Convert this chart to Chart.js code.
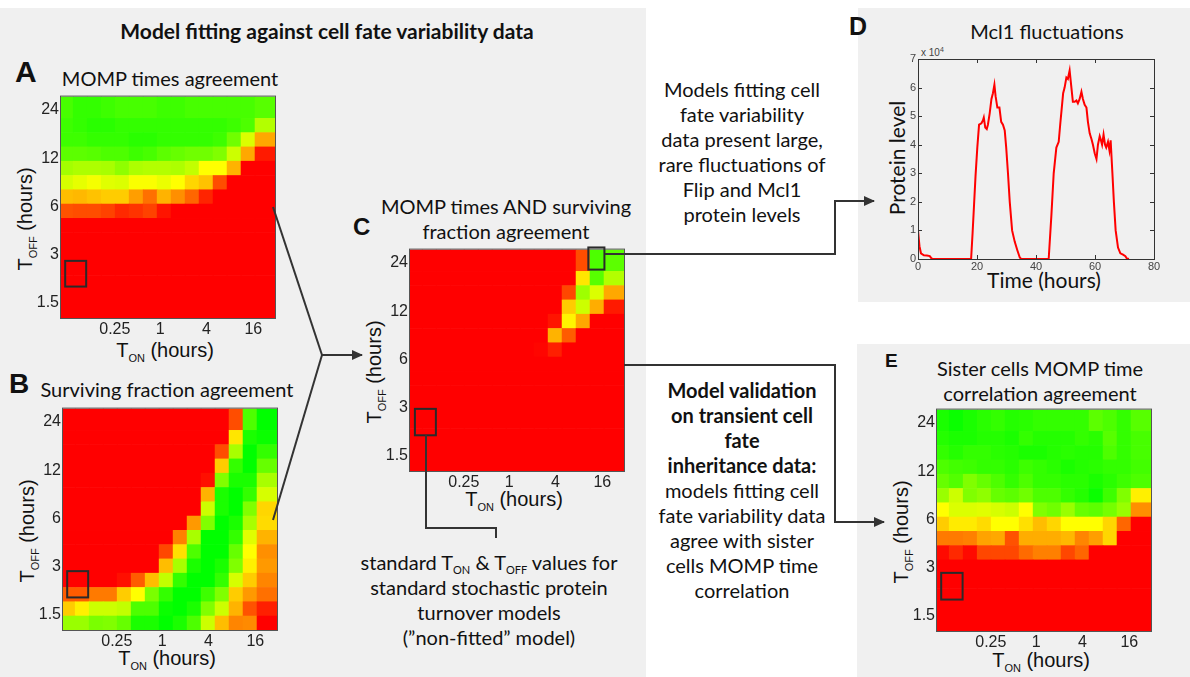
<!DOCTYPE html>
<html>
<head>
<meta charset="utf-8">
<script src="https://cdn.jsdelivr.net/npm/chart.js@4.4.0/dist/chart.umd.min.js"></script>
<style>
body { margin: 0; width: 1190px; height: 677px; position: relative; overflow: hidden; background: #fff; font-family: Lato, sans-serif; color: #111; }
.bg { position: absolute; background: #f0f0f0; }
.t { position: absolute; text-align: center; white-space: nowrap; line-height: 25px; font-size: 20px; }
.t sub { font-size: 11px; vertical-align: -4px; line-height: 0; }
.lt { position: absolute; font-family: 'Liberation Sans', Arial, sans-serif; font-weight: bold; line-height: 1; }
.ax { position: absolute; font-family: 'Liberation Sans', Arial, sans-serif; font-size: 20px; white-space: nowrap; text-align: center; line-height: 24px; color: #111; }
.ax sub { font-size: 11px; vertical-align: -5px; line-height: 0; }
.rot { transform: translate(-50%, -50%) rotate(-90deg); }
canvas { position: absolute; }
svg { position: absolute; left: 0; top: 0; }
</style>
</head>
<body>
<div class="bg" style="left:0;top:8px;width:646px;height:669px"></div>
<div class="bg" style="left:858px;top:8px;width:332px;height:294px"></div>
<div class="bg" style="left:857px;top:344px;width:333px;height:333px"></div>

<!-- panel letters -->
<div class="lt" style="left:15px;top:57px;font-size:30px">A</div>
<div class="lt" style="left:9px;top:370px;font-size:28px">B</div>
<div class="lt" style="left:353px;top:215px;font-size:24px">C</div>
<div class="lt" style="left:849px;top:14px;font-size:25px">D</div>
<div class="lt" style="left:885px;top:351px;font-size:19px">E</div>

<!-- titles -->
<div class="t" style="left:77px;top:18px;width:500px;font-weight:bold;font-size:21px">Model fitting against cell fate variability data</div>
<div class="t" style="left:40px;top:66px;width:260px">MOMP times agreement</div>
<div class="t" style="left:27px;top:377px;width:280px">Surviving fraction agreement</div>
<div class="t" style="left:376px;top:194px;width:260px">MOMP times AND surviving<br>fraction agreement</div>
<div class="t" style="left:920px;top:356px;width:240px">Sister cells MOMP time<br>correlation agreement</div>
<div class="t" style="left:947px;top:19px;width:200px">Mcl1 fluctuations</div>

<!-- side notes -->
<div class="t" style="left:632px;top:77px;width:220px">Models fitting cell<br>fate variability<br>data present large,<br>rare fluctuations of<br>Flip and Mcl1<br>protein levels</div>
<div class="t" style="left:632px;top:378px;width:220px"><b>Model validation<br>on transient cell<br>fate<br>inheritance data:</b><br>models fitting cell<br>fate variability data<br>agree with sister<br>cells MOMP time<br>correlation</div>
<div class="t" style="left:349px;top:550px;width:280px">standard T<sub>ON</sub> &amp; T<sub>OFF</sub> values for<br>standard stochastic protein<br>turnover models<br>(”non-fitted” model)</div>

<!-- heatmap axis titles -->
<div class="ax" style="left:65px;top:338px;width:200px">T<sub>ON</sub> (hours)</div>
<div class="ax" style="left:67px;top:646px;width:200px">T<sub>ON</sub> (hours)</div>
<div class="ax" style="left:414px;top:487px;width:200px">T<sub>ON</sub> (hours)</div>
<div class="ax" style="left:941px;top:648px;width:200px">T<sub>ON</sub> (hours)</div>
<div class="ax rot" style="left:25px;top:219px">T<sub>OFF</sub> (hours)</div>
<div class="ax rot" style="left:27px;top:531px">T<sub>OFF</sub> (hours)</div>
<div class="ax rot" style="left:374px;top:372px">T<sub>OFF</sub> (hours)</div>
<div class="ax rot" style="left:901px;top:532px">T<sub>OFF</sub> (hours)</div>

<!-- line chart labels -->
<div class="t rot" style="left:896px;top:158px;font-size:21px">Protein level</div>
<div class="t" style="left:944px;top:267px;width:200px;font-size:21px">Time (hours)</div>
<div style="position:absolute;left:921px;top:46px;font-family:'Liberation Sans',Arial,sans-serif;font-size:10px;color:#444">x 10<sup style="font-size:7px">4</sup></div>

<canvas id="hA"></canvas>
<canvas id="hB"></canvas>
<canvas id="hC"></canvas>
<canvas id="hE"></canvas>
<canvas id="lineD"></canvas>

<svg width="1190" height="677">
  <defs>
    <marker id="ah" markerWidth="11" markerHeight="10" refX="10" refY="5" orient="auto" markerUnits="userSpaceOnUse">
      <path d="M0,0 L11,5 L0,10 z" fill="#333"/>
    </marker>
  </defs>
  <g fill="none" stroke="#333" stroke-width="2">
    <polyline points="273,207 322,355"/>
    <polyline points="273,520 322,355"/>
    <polyline points="322,355 362,355" marker-end="url(#ah)"/>
    <polyline points="605,254 835,254 835,201 874,201" marker-end="url(#ah)"/>
    <polyline points="624,365 835,365 835,522 884,522" marker-end="url(#ah)"/>
    <polyline points="426,435 426,528 496,528 496,538"/>
  </g>
</svg>

<script>
Chart.defaults.font.family = "'Liberation Sans', Arial, sans-serif";
Chart.defaults.color = '#222';
Chart.defaults.animation = false;

// heatmap axes (cell units) and tick labels
const X_TICK_POS = [4.0, 7.25, 10.55, 13.9];
const X_TICK_LABELS = ['0.25', '1', '4', '16'];
const Y_TICK_POS = [1.1, 4.47, 7.8, 11.18, 14.6];
const Y_TICK_LABELS = ['1.5', '3', '6', '12', '24'];
const COL_EDGES = [0.15, 1, 2, 3, 4, 5, 6, 7, 8, 9, 10, 11, 12, 13, 14, 15.45];
const ROW_EDGES = [0, 1, 2, 3, 4, 5, 6, 7, 8, 9, 10, 11, 12, 13, 14, 15.5];

// agreement scores 0 (red) .. 5 (yellow) .. 10 (green), rows top -> bottom
const gridA = [
    [8.6, 9.0, 9.0, 8.8, 8.6, 8.6, 8.6, 8.8, 8.8, 8.6, 8.6, 8.6, 8.6, 8.6, 8.3],
    [8.8, 9.0, 9.2, 9.2, 9.0, 9.0, 9.0, 9.0, 9.0, 9.0, 9.0, 9.0, 8.8, 8.5, 6.5],
    [8.8, 8.8, 9.0, 9.0, 9.0, 9.2, 9.2, 9.0, 9.0, 9.0, 9.0, 8.8, 7.8, 5.7, 3.3],
    [8.2, 8.2, 8.3, 8.5, 8.5, 8.8, 8.6, 8.2, 8.0, 7.8, 7.8, 7.5, 6.0, 3.3, 0.5],
    [6.8, 6.6, 6.6, 6.7, 7.2, 6.6, 6.5, 6.5, 6.6, 6.2, 5.0, 5.0, 3.5, 0, 0],
    [5.8, 5.5, 5.2, 5.6, 5.7, 5.1, 5.1, 5.4, 5.0, 4.2, 3.8, 1.5, 0, 0, 0],
    [3.7, 3.6, 3.8, 4.0, 4.0, 3.1, 2.2, 3.5, 2.8, 2.0, 0.7, 0, 0, 0, 0],
    [1.6, 1.5, 1.5, 1.3, 0.8, 1.0, 1.3, 0.4, 0, 0, 0, 0, 0, 0, 0],
    [0, 0, 0, 0, 0, 0, 0, 0, 0, 0, 0, 0, 0, 0, 0],
    [0, 0, 0, 0, 0, 0, 0, 0, 0, 0, 0, 0, 0, 0, 0],
    [0, 0, 0, 0, 0, 0, 0, 0, 0, 0, 0, 0, 0, 0, 0],
    [0, 0, 0, 0, 0, 0, 0, 0, 0, 0, 0, 0, 0, 0, 0],
    [0, 0, 0, 0, 0, 0, 0, 0, 0, 0, 0, 0, 0, 0, 0],
    [0, 0, 0, 0, 0, 0, 0, 0, 0, 0, 0, 0, 0, 0, 0],
    [0, 0, 0, 0, 0, 0, 0, 0, 0, 0, 0, 0, 0, 0, 0],
];

const gridB = [
    [0, 0, 0, 0, 0, 0, 0, 0, 0, 0, 0, 0, 1.5, 8.5, 10],
    [0, 0, 0, 0, 0, 0, 0, 0, 0, 0, 0, 0, 4.5, 9.5, 9.8],
    [0, 0, 0, 0, 0, 0, 0, 0, 0, 0, 0, 1.5, 6.7, 10, 9.0],
    [0, 0, 0, 0, 0, 0, 0, 0, 0, 0, 0, 4.0, 9.0, 10, 8.0],
    [0, 0, 0, 0, 0, 0, 0, 0, 0, 0, 0.3, 7.5, 9.5, 9.5, 6.7],
    [0, 0, 0, 0, 0, 0, 0, 0, 0, 0, 3.5, 9.5, 10, 9.0, 5.8],
    [0, 0, 0, 0, 0, 0, 0, 0, 0, 0, 6.0, 9.5, 10, 7.5, 4.2],
    [0, 0, 0, 0, 0, 0, 0, 0, 0, 3.0, 7.5, 10, 9.5, 6.7, 4.3],
    [0, 0, 0, 0, 0, 0, 0, 0, 2.5, 6.7, 10, 10, 9.0, 5.6, 3.5],
    [0, 0, 0, 0, 0, 0, 0, 1.4, 4.4, 8.5, 10, 10, 8.0, 5.0, 2.8],
    [0, 0, 0, 0, 0, 0, 0, 3.7, 6.7, 9.5, 10, 9.5, 7.5, 4.7, 3.0],
    [0, 0, 0, 0, 0.3, 1.8, 3.7, 6.2, 9.0, 10, 10, 9.0, 5.8, 4.0, 2.6],
    [1.8, 1.8, 2.4, 2.4, 4.0, 5.0, 7.6, 9.0, 10, 10, 8.8, 7.5, 4.0, 3.0, 2.2],
    [4.0, 4.7, 6.0, 6.0, 6.2, 8.5, 8.5, 9.8, 10, 9.5, 7.5, 6.0, 3.5, 1.6, 0.6],
    [7.0, 7.0, 7.6, 7.5, 8.0, 9.5, 9.5, 10, 9.5, 8.5, 6.0, 3.7, 2.6, 2.7, 0],
];

const gridC = [
    [0, 0, 0, 0, 0, 0, 0, 0, 0, 0, 0, 0, 1.5, 8.5, 8.2],
    [0, 0, 0, 0, 0, 0, 0, 0, 0, 0, 0, 0, 4.5, 8.3, 6.5],
    [0, 0, 0, 0, 0, 0, 0, 0, 0, 0, 0, 1.4, 6.9, 5.7, 3.3],
    [0, 0, 0, 0, 0, 0, 0, 0, 0, 0, 0, 4.0, 6.0, 3.4, 0.5],
    [0, 0, 0, 0, 0, 0, 0, 0, 0, 0, 0.4, 4.8, 3.3, 0, 0],
    [0, 0, 0, 0, 0, 0, 0, 0, 0, 0, 3.5, 1.8, 0, 0, 0],
    [0, 0, 0, 0, 0, 0, 0, 0, 0, 0.1, 0.6, 0, 0, 0, 0],
    [0, 0, 0, 0, 0, 0, 0, 0, 0, 0, 0, 0, 0, 0, 0],
    [0, 0, 0, 0, 0, 0, 0, 0, 0, 0, 0, 0, 0, 0, 0],
    [0, 0, 0, 0, 0, 0, 0, 0, 0, 0, 0, 0, 0, 0, 0],
    [0, 0, 0, 0, 0, 0, 0, 0, 0, 0, 0, 0, 0, 0, 0],
    [0, 0, 0, 0, 0, 0, 0, 0, 0, 0, 0, 0, 0, 0, 0],
    [0, 0, 0, 0, 0, 0, 0, 0, 0, 0, 0, 0, 0, 0, 0],
    [0, 0, 0, 0, 0, 0, 0, 0, 0, 0, 0, 0, 0, 0, 0],
    [0, 0, 0, 0, 0, 0, 0, 0, 0, 0, 0, 0, 0, 0, 0],
];

const gridE = [
    [9.5, 9.8, 9.5, 9.2, 9.0, 9.3, 9.2, 9.0, 9.0, 9.0, 9.0, 8.2, 8.5, 9.0, 8.3],
    [9.3, 9.5, 9.5, 9.3, 9.3, 9.5, 9.0, 9.3, 9.3, 9.3, 9.0, 9.2, 8.3, 9.0, 8.6],
    [9.0, 9.3, 9.0, 9.0, 9.2, 9.3, 9.5, 9.5, 9.3, 9.2, 9.3, 9.3, 8.5, 9.0, 8.6],
    [8.5, 8.7, 8.8, 9.0, 9.0, 9.2, 8.8, 9.0, 9.2, 9.5, 9.3, 9.2, 9.0, 9.0, 8.7],
    [8.0, 8.4, 7.5, 8.0, 8.5, 9.0, 8.5, 9.0, 9.0, 9.2, 9.2, 9.5, 9.2, 8.8, 8.5],
    [7.0, 6.0, 7.5, 7.2, 8.0, 8.2, 7.8, 8.5, 8.5, 9.0, 9.3, 9.8, 8.8, 7.5, 4.7],
    [5.0, 5.7, 5.7, 5.6, 5.8, 6.0, 5.0, 7.5, 7.8, 7.0, 8.0, 8.2, 7.7, 7.0, 2.8],
    [4.0, 4.6, 4.6, 4.3, 5.0, 5.0, 4.4, 3.7, 4.2, 5.0, 5.0, 5.0, 4.2, 2.0, 0],
    [2.4, 2.4, 2.5, 3.2, 3.3, 1.6, 3.4, 3.4, 3.4, 3.6, 2.6, 3.1, 4.2, 0, 0],
    [0.2, 0.8, 0.2, 1.4, 1.4, 1.4, 2.1, 2.5, 2.5, 1.4, 2.0, 0, 0, 0, 0],
    [0, 0, 0, 0, 0, 0, 0, 0, 0, 0, 0, 0, 0, 0, 0],
    [0, 0, 0, 0, 0, 0, 0, 0, 0, 0, 0, 0, 0, 0, 0],
    [0, 0, 0, 0, 0, 0, 0, 0, 0, 0, 0, 0, 0, 0, 0],
    [0, 0, 0, 0, 0, 0, 0, 0, 0, 0, 0, 0, 0, 0, 0],
    [0, 0, 0, 0, 0, 0, 0, 0, 0, 0, 0, 0, 0, 0, 0],
];

// highlighted parameter sets, in cell units [x0, x1, y0, y1]
const boxesA = [[0.45, 1.95, 2.2, 4.0]];
const boxesB = [[0.45, 1.95, 2.28, 4.12]];
const boxesC = [[0.5, 2.0, 2.5, 4.35], [12.9, 14.05, 14.1, 15.65]];
const boxesE = [[0.45, 1.98, 2.2, 4.07]];

// Mcl1 trace: time (hours), protein level (x 10^4)
const timeD = [0, 0.5, 1, 2, 3, 4, 4.5, 5, 18, 18.5, 19, 19.5, 20.1, 20.7, 21.5, 22, 22.3, 22.8, 23.3, 23.7,
    24.3, 24.9, 25.4, 25.9, 26.3, 26.9, 27.6, 28.2, 28.8, 29.4, 29.9, 30.5, 31.1, 31.9, 32.8, 33.7, 34.5, 35,
    44.3, 45.2, 46, 46.9, 47.7, 48.2, 49.2, 49.7, 50.3, 50.8, 51.4, 52, 52.5, 53.1, 53.7, 54.2, 54.8, 55.4,
    55.9, 56.5, 57.1, 57.6, 58.2, 58.8, 59.3, 59.9, 60.5, 61, 61.6, 61.9, 62.4, 62.9, 63.4, 63.8, 64.4, 64.9,
    65.3, 65.9, 66.4, 67, 67.8, 68.6, 69.5, 70.3, 70.8, 71.5];
const levelD = [1.0, 0.45, 0.2, 0.13, 0.12, 0.1, 0.03, 0, 0, 0.9, 1.9, 2.9, 3.9, 4.7, 4.75, 4.85, 4.95, 4.6, 4.55, 4.7,
    5.1, 5.6, 5.8, 6.1, 5.7, 5.3, 5.3, 4.8, 4.7, 4.5, 3.9, 3.0, 2.0, 1.0, 0.6, 0.3, 0.05, 0,
    0, 1.5, 3.0, 3.9, 4.1, 4.7, 5.8, 6.0, 6.35, 6.3, 6.6, 6.0, 5.5, 5.5, 5.55, 5.45, 5.6, 5.85,
    5.6, 5.4, 5.3, 4.8, 4.4, 4.2, 4.0, 3.7, 3.5, 4.0, 4.3, 4.2, 4.0, 4.35, 4.0, 3.9, 4.1, 3.8,
    4.15, 3.0, 2.0, 1.0, 0.4, 0.2, 0.15, 0.1, 0.02, 0];

// red -> yellow -> green
function cmap(v) {
    if (v <= 5) return 'rgb(255,' + Math.round(v * 51) + ',0)';
    return 'rgb(' + Math.round(255 - (v - 5) * 51) + ',255,0)';
}

const heatPlugin = {
    id: 'heat',
    beforeDatasetsDraw(chart) {
        const { ctx, scales: { x, y } } = chart;
        ctx.save();
        chart.data.datasets[0].data.forEach(c => {
            const px0 = x.getPixelForValue(c.x0), px1 = x.getPixelForValue(c.x1);
            const py0 = y.getPixelForValue(c.y0), py1 = y.getPixelForValue(c.y1);
            ctx.fillStyle = cmap(c.v);
            ctx.fillRect(px0, py1, px1 - px0 + 0.6, py0 - py1 + 0.6);
        });
        ctx.restore();
    },
    afterDraw(chart) {
        const { ctx, chartArea: a, scales: { x, y } } = chart;
        ctx.save();
        ctx.strokeStyle = '#555';
        ctx.lineWidth = 1;
        ctx.strokeRect(a.left - 0.5, a.top - 0.5, a.width + 1, a.height + 1);
        ctx.strokeStyle = '#2a2a2a';
        ctx.lineWidth = 2;
        (chart.options.plugins.heat.boxes || []).forEach(b => {
            const px0 = x.getPixelForValue(b[0]), px1 = x.getPixelForValue(b[1]);
            const py0 = y.getPixelForValue(b[2]), py1 = y.getPixelForValue(b[3]);
            ctx.strokeRect(px0, py1, px1 - px0, py0 - py1);
        });
        ctx.restore();
    },
};

function renderHeatmap(id, grid, boxes, plotLeft, plotTop) {
    const cv = document.getElementById(id);
    const axW = 45, axH = 26, padT = 8, padR = 8;
    cv.width = axW + 214 + padR;
    cv.height = padT + 225 + axH;
    cv.style.left = (plotLeft - axW) + 'px';
    cv.style.top = (plotTop - padT) + 'px';

    const n = grid.length;
    const cells = [];
    grid.forEach((row, r) => row.forEach((v, c) => {
        const ri = n - 1 - r;
        cells.push({
            x: (COL_EDGES[c] + COL_EDGES[c + 1]) / 2, y: (ROW_EDGES[ri] + ROW_EDGES[ri + 1]) / 2,
            x0: COL_EDGES[c], x1: COL_EDGES[c + 1], y0: ROW_EDGES[ri], y1: ROW_EDGES[ri + 1], v: v,
        });
    }));

    return new Chart(cv, {
        type: 'scatter',
        data: { datasets: [{ data: cells, pointRadius: 0, pointHoverRadius: 0 }] },
        options: {
            responsive: false,
            layout: { padding: { top: padT, right: padR, left: 0, bottom: 0 } },
            plugins: { legend: { display: false }, tooltip: { enabled: false }, heat: { boxes: boxes } },
            scales: {
                x: {
                    type: 'linear', min: COL_EDGES[0], max: COL_EDGES[COL_EDGES.length - 1],
                    afterBuildTicks: s => { s.ticks = X_TICK_POS.map(v => ({ value: v })); },
                    afterFit: s => { s.height = axH; },
                    ticks: { callback: (v, i) => X_TICK_LABELS[i], font: { size: 16 }, color: '#222', padding: 2, maxRotation: 0, autoSkip: false },
                    grid: { display: false, drawTicks: false },
                    border: { display: false },
                },
                y: {
                    type: 'linear', min: ROW_EDGES[0], max: ROW_EDGES[ROW_EDGES.length - 1],
                    afterBuildTicks: s => { s.ticks = Y_TICK_POS.map(v => ({ value: v })); },
                    afterFit: s => { s.width = axW; },
                    ticks: { callback: (v, i) => Y_TICK_LABELS[i], font: { size: 16 }, color: '#222', padding: 2, autoSkip: false },
                    grid: { display: false, drawTicks: false },
                    border: { display: false },
                },
            },
        },
        plugins: [heatPlugin],
    });
}

renderHeatmap('hA', gridA, boxesA, 61, 93);
renderHeatmap('hB', gridB, boxesB, 63, 405);
renderHeatmap('hC', gridC, boxesC, 410, 246);
renderHeatmap('hE', gridE, boxesE, 937, 406);

// matlab style box with inward ticks
const boxAxes = {
    id: 'boxAxes',
    afterDraw(chart) {
        const { ctx, chartArea: a, scales: { x, y } } = chart;
        ctx.save();
        ctx.strokeStyle = '#333';
        ctx.lineWidth = 1;
        ctx.strokeRect(a.left + 0.5, a.top + 0.5, a.width, a.height);
        ctx.beginPath();
        x.ticks.forEach(t => {
            const px = Math.round(x.getPixelForValue(t.value)) + 0.5;
            ctx.moveTo(px, a.bottom); ctx.lineTo(px, a.bottom - 4);
            ctx.moveTo(px, a.top); ctx.lineTo(px, a.top + 4);
        });
        y.ticks.forEach(t => {
            const py = Math.round(y.getPixelForValue(t.value)) + 0.5;
            ctx.moveTo(a.left, py); ctx.lineTo(a.left + 4, py);
            ctx.moveTo(a.right, py); ctx.lineTo(a.right - 4, py);
        });
        ctx.stroke();
        ctx.restore();
    },
};

(function renderLine() {
    const cv = document.getElementById('lineD');
    const axW = 30, axH = 18, padT = 10, padR = 12;
    cv.width = axW + 236 + padR;
    cv.height = padT + 200 + axH;
    cv.style.left = (918 - axW) + 'px';
    cv.style.top = (59 - padT) + 'px';
    new Chart(cv, {
        type: 'line',
        data: {
            datasets: [{
                data: timeD.map((t, i) => ({ x: t, y: levelD[i] })),
                borderColor: '#ff0000',
                borderWidth: 2,
                pointRadius: 0,
                tension: 0,
                fill: false,
            }],
        },
        options: {
            responsive: false,
            layout: { padding: { top: padT, right: padR, left: 0, bottom: 0 } },
            plugins: { legend: { display: false }, tooltip: { enabled: false } },
            scales: {
                x: {
                    type: 'linear', min: 0, max: 80,
                    afterFit: s => { s.height = axH; },
                    ticks: { stepSize: 20, font: { size: 11 }, color: '#444', padding: 1, maxRotation: 0 },
                    grid: { display: false, drawTicks: false },
                    border: { display: false },
                },
                y: {
                    type: 'linear', min: 0, max: 7,
                    afterFit: s => { s.width = axW; },
                    ticks: { stepSize: 1, font: { size: 11 }, color: '#444', padding: 2 },
                    grid: { display: false, drawTicks: false },
                    border: { display: false },
                },
            },
        },
        plugins: [boxAxes],
    });
})();
</script>
</body>
</html>
